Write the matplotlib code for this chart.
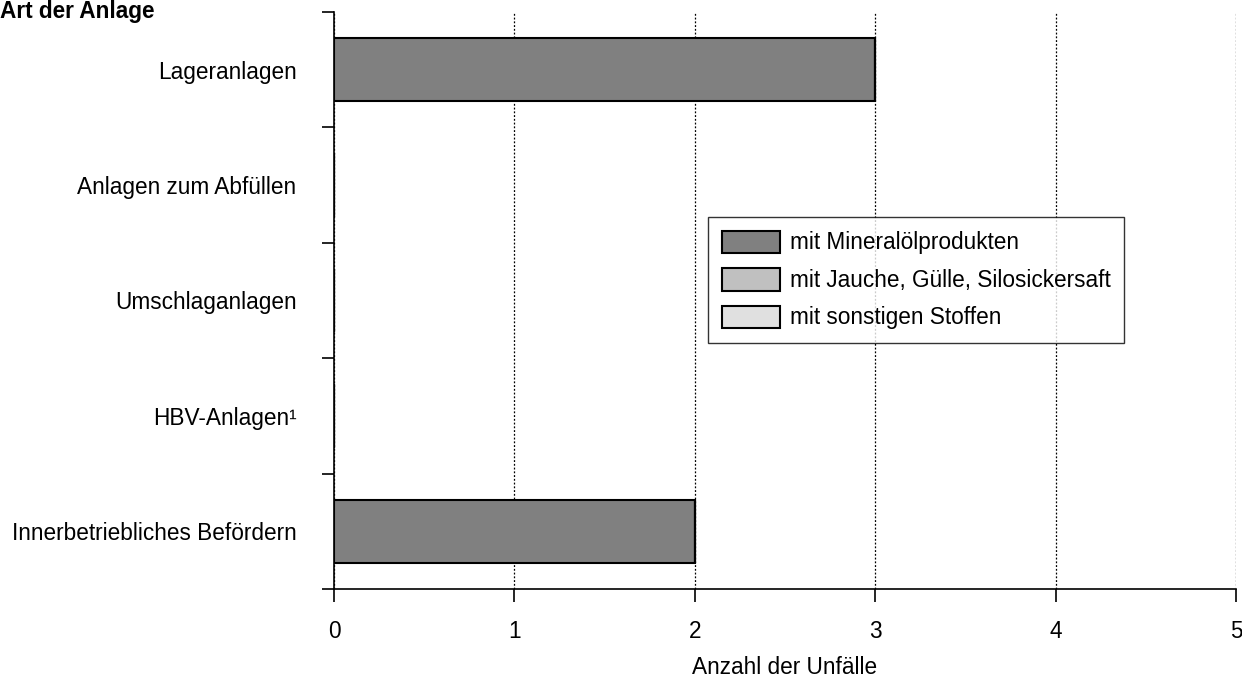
import matplotlib.pyplot as plt
import numpy as np

plt.rcParams['font.family'] = ['Liberation Sans', 'DejaVu Sans']

# Daten
kategorien = ['Lageranlagen', 'Anlagen zum Abfüllen', 'Umschlaganlagen',
              'HBV-Anlagen¹', 'Innerbetriebliches Befördern']
mineraloel = [3, 0, 0, 0, 2]
jauche = [0, 0, 0, 0, 0]
sonstige = [0, 0, 0, 0, 0]
serien = ['mit Mineralölprodukten', 'mit Jauche, Gülle, Silosickersaft',
          'mit sonstigen Stoffen']
farben = ['#808080', '#c0c0c0', '#e0e0e0']

fs = 16.3

fig = plt.figure(figsize=(12.42, 6.82), dpi=100)
ax = fig.add_axes([334 / 1242, 1 - 589 / 682, (1236 - 334) / 1242, (589 - 12) / 682])

y = np.arange(len(kategorien))
links = np.zeros(len(kategorien))
for werte, name, farbe in zip([mineraloel, jauche, sonstige], serien, farben):
    ax.barh(y, werte, left=links, height=0.55, color=farbe, edgecolor='black',
            linewidth=1.5, label=name, zorder=3)
    links += np.array(werte)

ax.set_xlim(0, 5)
ax.set_ylim(len(kategorien) - 0.5, -0.5)

# Ticks an den Grenzen, Beschriftung in der Mitte
ax.set_yticks(np.arange(-0.5, len(kategorien), 1.0))
ax.set_yticklabels([])
ax.set_yticks(y, minor=True)
ax.set_yticklabels(kategorien, minor=True, fontsize=fs)
ax.tick_params(axis='y', which='major', length=9, width=1.2, direction='out')
ax.tick_params(axis='y', which='minor', length=0, pad=27)

ax.set_xticks(range(6))
ax.tick_params(axis='x', length=9, width=1.2, direction='out', pad=13, labelsize=fs)

ax.grid(axis='x', color='black', linestyle=(0, (1.5, 1.5)), linewidth=0.9, zorder=0)

for s in ['top', 'right']:
    ax.spines[s].set_visible(False)
for s in ['left', 'bottom']:
    ax.spines[s].set_linewidth(1.2)

ax.set_xlabel('Anzahl der Unfälle', fontsize=fs, labelpad=10)

leg = ax.legend(loc='upper left', bbox_to_anchor=((708 - 334) / 902, 1 - (217 - 12) / 577),
                fontsize=fs, frameon=True, fancybox=False, edgecolor='black',
                handlelength=2.6, handleheight=1.15, labelspacing=0.6,
                borderpad=0.6, handletextpad=0.4, borderaxespad=0)
leg.get_frame().set_linewidth(1.0)

fig.text(0.0, 1.0, 'Art der Anlage', fontsize=fs, fontweight='bold',
         ha='left', va='top')

plt.savefig('out.png', dpi=100)
plt.close()
